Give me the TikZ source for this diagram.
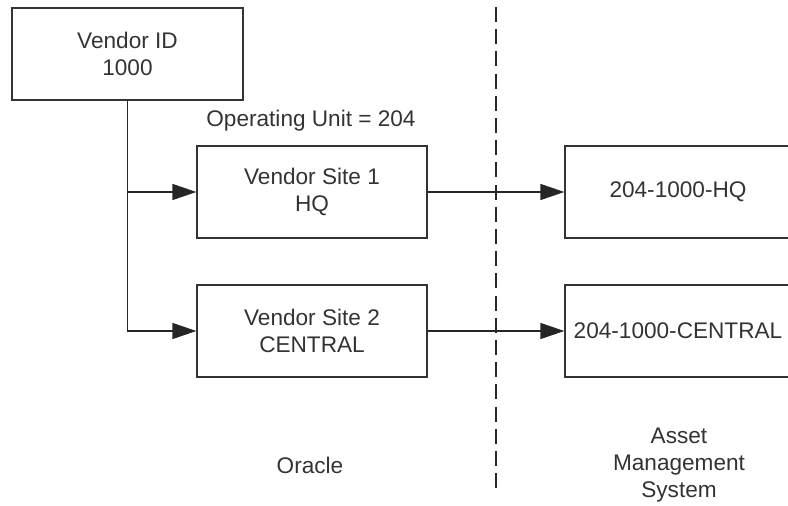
\documentclass[tikz,border=0pt]{standalone}
\usepackage{fontspec}
\setmainfont{Liberation Sans}
\usetikzlibrary{arrows.meta}
\begin{document}
\begin{tikzpicture}[x=1pt, y=-1pt]
            \tikzstyle{every node}=[font=\fontsize{22.6}{27}\selectfont, text=black!80, align=center, inner sep=0pt]
            \tikzstyle{box}=[rectangle, draw=black!80, line width=1.3pt, minimum height=92pt]
            \tikzstyle{link}=[black!85, line width=1.3pt, -{Triangle[length=24pt, width=16pt]}]

            \useasboundingbox (0,0) rectangle (788,506);

            \node[box, minimum width=231pt] (vid) at (127.5,54) {Vendor ID\\1000};
            \node[box, minimum width=230pt] (site1) at (312,192) {Vendor Site 1\\HQ};
            \node[box, minimum width=230pt] (site2) at (312,331) {Vendor Site 2\\CENTRAL};
            \node[box, minimum width=226pt] (hq) at (678,192) {204-1000-HQ};
            \node[box, minimum width=226pt] (central) at (678,331) {204-1000-CENTRAL};

            \node (ou) at (311,121) {Operating Unit = 204};
            \node (oracle) at (310,465) {Oracle};
            \node (ams) at (679,465) {Asset\\Management\\System};

            \coordinate (top) at (496,7);
            \coordinate (bottom) at (496,490);
            \draw[black!85, line width=1.3pt, dash pattern=on 15pt off 7.2pt] (top) -- (bottom);

            \draw[link] (vid.south) |- (site1);
            \draw[link] (vid.south) |- (site2);
            \draw[link] (site1) -- (hq);
            \draw[link] (site2) -- (central);
        \end{tikzpicture}
\end{document}
